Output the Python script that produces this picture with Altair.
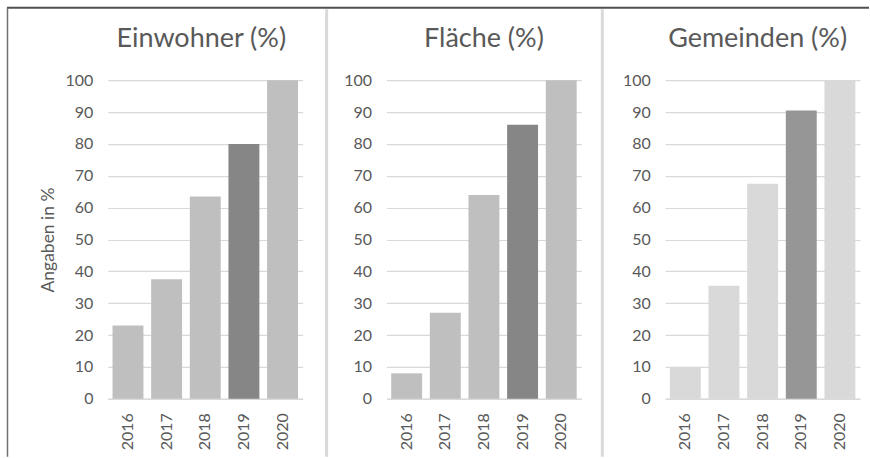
import altair as alt
import pandas as pd

years = ["2016", "2017", "2018", "2019", "2020"]
einwohner = [23, 37.5, 63.5, 80, 100]
flaeche = [8, 27, 64, 86, 100]
gemeinden = [10, 35.5, 67.5, 90.5, 100]
titles = ["Einwohner (%)", "Fläche (%)", "Gemeinden (%)"]
y_title = "Angaben in %"
y_ticks = list(range(0, 101, 10))

FONT = "Lato"
TXT = "#595959"
GRID = "#D9D9D9"
W, H = 195, 319

one = pd.DataFrame({"k": [0]})


def rule(x, x2, y, y2, color, width):
    return alt.Chart(one).mark_rule(color=color, strokeWidth=width).encode(
        x=alt.value(x), x2=alt.value(x2), y=alt.value(y), y2=alt.value(y2)
    )


def panel(values, title, light, dark, first, dx):
    df = pd.DataFrame({"Jahr": years, "Wert": values})
    bars = alt.Chart(df).mark_bar().encode(
        x=alt.X(
            "Jahr:N",
            sort=years,
            title=None,
            scale=alt.Scale(paddingInner=0.2, paddingOuter=0.12),
            axis=alt.Axis(
                labelAngle=270,
                labelPadding=14,
                ticks=False,
                domain=True,
                domainColor=GRID,
                domainWidth=1.5,
                grid=False,
                labelColor=TXT,
                labelFont=FONT,
                labelFontSize=16,
            ),
        ),
        y=alt.Y(
            "Wert:Q",
            scale=alt.Scale(domain=[0, 100], nice=False),
            title=y_title if first else None,
            axis=alt.Axis(
                values=y_ticks,
                ticks=False,
                domain=False,
                grid=True,
                gridColor=GRID,
                gridWidth=1.2,
                labelColor=TXT,
                labelFont=FONT,
                labelFontSize=16,
                labelPadding=15,
                titleColor=TXT,
                titleFont=FONT,
                titleFontSize=17.5,
                titleFontWeight="normal",
                titlePadding=8,
            ),
        ),
        color=alt.condition(
            alt.datum.Jahr == "2019", alt.value(dark), alt.value(light)
        ),
    )
    ttl = alt.Chart(one).mark_text(
        font=FONT, fontSize=27, color=TXT, align="center", baseline="alphabetic"
    ).encode(x=alt.value(W / 2 + dx), y=alt.value(-33), text=alt.value(title))
    layers = [bars, ttl]
    if first:
        layers += [
            rule(-101, 762, -72.5, -72.5, "#505050", 2),
            rule(-100.5, -100.5, -72.5, 377, "#707070", 1.5),
            rule(219, 219, -71, 377, "#D9D9D9", 3),
            rule(495, 495, -71, 377, "#D9D9D9", 3),
        ]
    return alt.layer(*layers).properties(
        width=W, height=H,
        view=alt.ViewBackground(stroke="#FFFFFF", strokeOpacity=0),
    )


p1 = panel(einwohner, titles[0], "#BFBFBF", "#868686", True, -4)
p2 = panel(flaeche, titles[1], "#BFBFBF", "#868686", False, 0)
p3 = panel(gemeinden, titles[2], "#D9D9D9", "#969696", False, -5)

chart = (
    alt.hconcat(p1, p2, p3, spacing=84, bounds="flush")
    .properties(
        padding={"left": 6, "top": 6, "right": 0, "bottom": 0},
        background="white",
    )
    .configure_view(stroke="#FFFFFF", strokeOpacity=0)
)

chart.save("out.html", embed_options={"renderer": "svg", "actions": False})
